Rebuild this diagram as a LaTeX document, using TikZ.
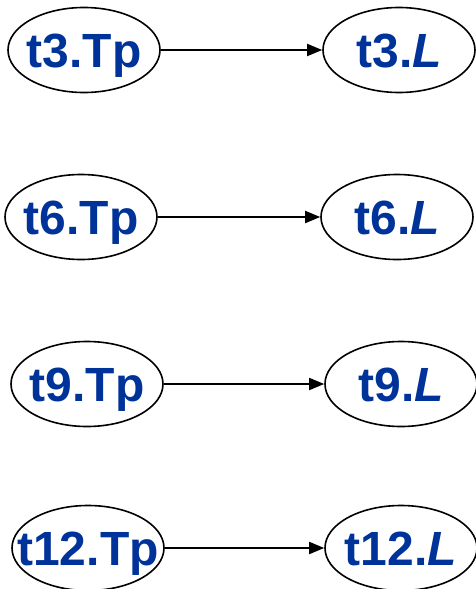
\documentclass[tikz,border=0pt]{standalone}
\usepackage{fontspec}
\setmainfont{Liberation Sans}
\usepackage{tikz}
\usetikzlibrary{arrows.meta,shapes,positioning}

\definecolor{tpblue}{RGB}{0,51,153}
\tikzset{
  var/.style={ellipse, draw=black, line width=1.6pt, fill=white,
    minimum width=152pt, minimum height=85pt, inner sep=0pt,
    text=tpblue, font=\fontsize{48}{48}\bfseries,
    text height=34pt, text depth=0pt},
  dep/.style={line width=1.8pt, -{Triangle[length=15pt,width=12pt]}}
}
\newcommand{\lbl}[1]{\makebox[0pt]{#1}}
\newcommand{\ltime}{\textit{L}}

\begin{document}
\begin{tikzpicture}[x=1pt,y=-1pt]
    \useasboundingbox (0,0) rectangle (476,589);

    % t3
    % ---------------------
    \node[var] (t3tp) at (84,50) {\lbl{t3.Tp}};
    \node[var] (t3l) at (399,50) {\lbl{t3.\ltime}};
    \draw[dep] (t3tp.east) -- (t3l.west);

    % t6
    % ---------------------
    \node[var] (t6tp) at (81,217) {\lbl{t6.Tp}};
    \node[var] (t6l) at (397,217) {\lbl{t6.\ltime}};
    \draw[dep] (t6tp.east) -- (t6l.west);

    % t9
    % ---------------------
    \node[var] (t9tp) at (87,384) {\lbl{t9.Tp}};
    \node[var] (t9l) at (401,384) {\lbl{t9.\ltime}};
    \draw[dep] (t9tp.east) -- (t9l.west);

    % t12
    % ---------------------
    \node[var] (t12tp) at (88,548) {\lbl{t12.Tp}};
    \node[var] (t12l) at (401,548) {\lbl{t12.\ltime}};
    \draw[dep] (t12tp.east) -- (t12l.west);
  \end{tikzpicture}
\end{document}
